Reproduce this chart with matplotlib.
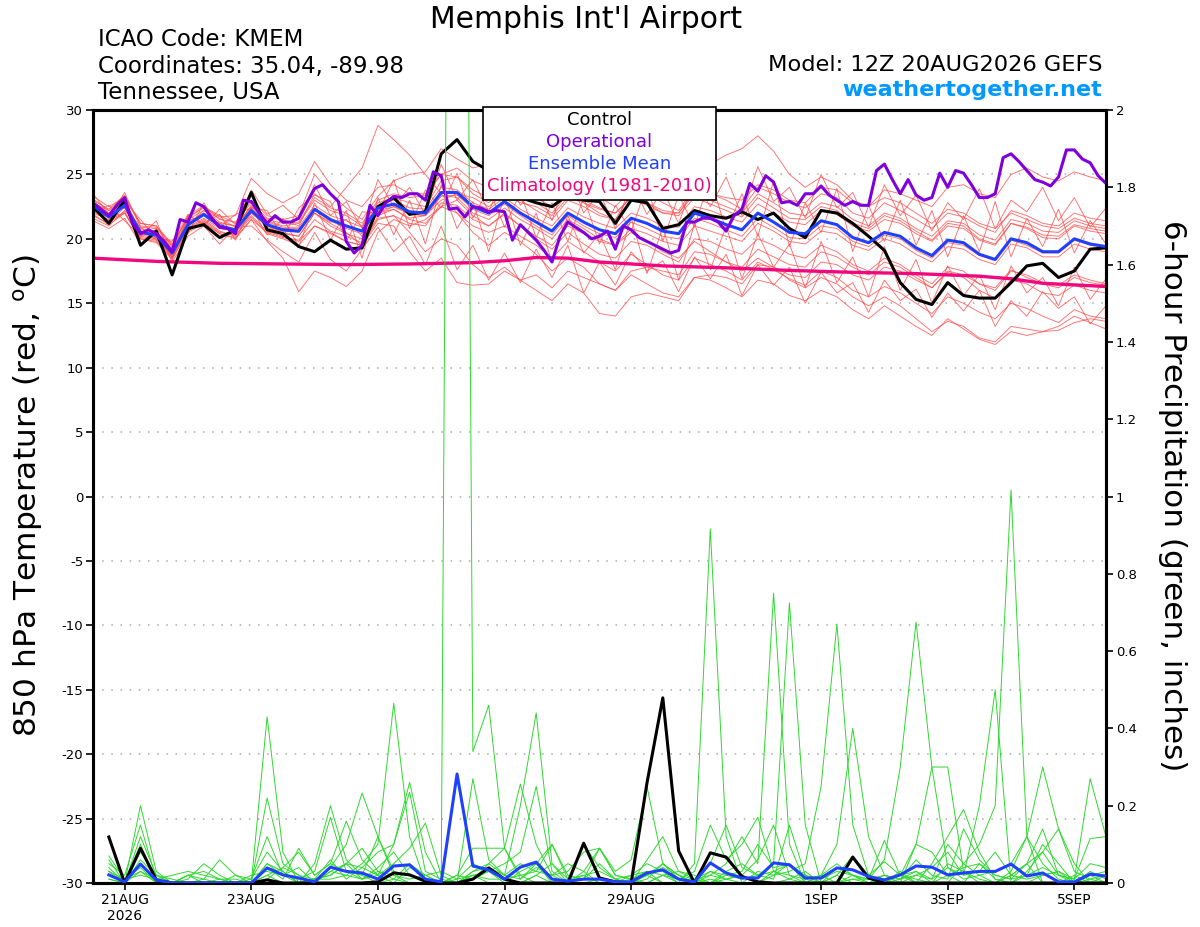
import matplotlib
matplotlib.use("Agg")
import matplotlib.pyplot as plt
from matplotlib.lines import Line2D
from matplotlib.ticker import FuncFormatter

plt.rcParams['font.family'] = 'DejaVu Sans'
plt.rcParams['axes.unicode_minus'] = False
plt.rcParams['mathtext.fontset'] = 'dejavusans'

# forecast hours after 12Z 20AUG2026
temp_hours = list(range(0, 385, 6))
op_hours = list(range(0, 385, 3))
precip_hours = list(range(6, 385, 6))
clim_hours = [0, 24, 48, 72, 96, 120, 144, 156, 168, 180, 192, 216, 240, 264, 288, 312, 336, 348, 360, 384]

# 850 hPa temperature (C)
control_t = [22.5, 21.2, 23.0, 19.5, 20.6, 17.2, 20.8, 21.1, 20.1, 20.7, 23.6, 20.7, 20.4,
             19.4, 19.0, 19.9, 19.2, 19.3, 22.5, 23.2, 21.9, 22.1, 26.6, 27.7, 26.0, 25.3,
             24.0, 23.2, 22.8, 22.5, 23.4, 23.0, 22.9, 21.2, 23.0, 22.8, 20.8, 21.1, 22.2,
             21.8, 21.6, 22.1, 21.5, 22.0, 20.8, 20.1, 22.2, 22.0, 21.2, 20.2, 19.1, 16.6,
             15.3, 14.9, 16.6, 15.6, 15.4, 15.4, 16.6, 17.9, 18.1, 17.0, 17.5, 19.2, 19.3]

mean_t = [22.6, 21.7, 22.6, 20.5, 20.3, 18.9, 21.1, 21.9, 21.0, 20.7, 22.2, 21.1, 20.7,
          20.6, 22.3, 21.5, 21.0, 20.6, 22.4, 22.7, 22.1, 22.0, 23.6, 23.6, 22.5, 22.0,
          22.9, 22.0, 21.3, 20.6, 22.0, 21.3, 20.7, 20.4, 21.6, 21.2, 20.6, 20.4, 22.0,
          21.6, 21.1, 20.7, 22.0, 21.3, 20.5, 20.4, 21.4, 21.1, 20.1, 19.7, 20.5, 20.2,
          19.3, 18.7, 19.9, 19.7, 18.8, 18.4, 20.0, 19.7, 19.0, 19.0, 20.0, 19.6, 19.4]

operational_t = [22.8, 22.3, 21.8, 22.6, 23.2, 21.2, 20.4, 20.7, 20.4, 19.8, 19.0, 21.5, 21.3,
                 22.8, 22.5, 21.6, 20.9, 20.8, 20.4, 23.0, 22.9, 22.0, 21.2, 21.8, 21.3, 21.3,
                 21.6, 22.8, 23.9, 24.2, 23.5, 22.9, 19.8, 18.9, 19.5, 22.6, 21.8, 22.8, 23.3,
                 23.2, 23.5, 23.5, 23.0,
                 25.2, 24.9, 22.3, 22.4, 21.7, 22.5, 22.4, 22.1, 22.2, 22.1,
                 19.9, 21.1, 20.5, 19.9, 19.1, 18.2, 20.2, 21.3, 20.9, 20.5,
                 20.0, 20.2, 20.6, 19.2, 21.0, 20.7, 20.1, 19.8, 19.5, 19.2,
                 18.9, 19.1, 21.3, 21.3, 21.6, 21.6, 21.3, 20.6, 21.8, 22.3,
                 24.3, 23.7, 24.9,
                 24.4, 22.8, 22.9, 22.6, 23.5, 23.5, 24.1, 23.4, 23.0, 22.6,
                 22.9, 22.6, 22.6, 25.3, 25.8, 24.6, 23.5, 24.6, 23.4, 23.0,
                 23.2, 25.1, 24.0, 25.3, 25.1, 24.2, 23.2, 23.2, 23.5, 26.3,
                 26.6, 26.0, 25.3, 24.6, 24.4, 24.1, 24.8, 26.9, 26.9, 26.2,
                 25.9, 24.9, 24.3]

climatology_t = [18.5, 18.25, 18.1, 18.05, 18.0, 18.05, 18.15, 18.3, 18.55, 18.5,
                 18.2, 17.9, 17.75, 17.55, 17.4, 17.3, 17.1, 16.9, 16.55, 16.3]

# ensemble members, temperature
members_t = [
    [23.0, 22.3, 23.4, 21.0, 20.9, 19.5, 21.6, 22.5, 21.8, 21.2, 23.0, 21.8, 21.5,
     21.0, 23.5, 22.5, 24.0, 25.5, 28.8, 27.7, 26.5, 25.0, 23.5, 22.0, 21.0, 20.5,
     21.0, 20.2, 19.5, 18.5, 19.8, 19.0, 18.2, 17.5, 18.8, 18.0, 17.2, 16.8, 18.5,
     18.0, 17.5, 16.8, 18.2, 17.6, 16.9, 16.4, 17.5, 17.0, 16.0, 15.5, 16.3, 15.8,
     15.0, 14.2, 15.5, 15.0, 14.3, 13.8, 15.0, 14.6, 14.0, 13.5, 14.5, 14.0, 13.8],
    [22.2, 21.3, 22.0, 20.0, 19.8, 18.5, 20.5, 21.2, 20.4, 20.0, 21.5, 19.8, 18.5,
     15.9, 17.5, 17.0, 16.3, 17.5, 20.5, 21.5, 21.0, 21.5, 22.5, 22.0, 20.5, 19.5,
     20.5, 19.8, 18.8, 17.5, 18.5, 17.8, 16.5, 16.0, 17.2, 16.5, 15.8, 15.5, 17.0,
     16.8, 16.2, 15.5, 16.8, 16.5, 15.6, 15.2, 16.0, 15.5, 14.5, 13.8, 14.8, 14.0,
     13.2, 12.5, 13.8, 13.0, 12.2, 11.8, 12.8, 12.5, 12.8, 13.2, 14.0, 13.5, 13.0],
    [23.3, 22.5, 23.2, 21.2, 21.0, 19.4, 21.8, 22.6, 21.5, 21.3, 22.8, 21.6, 21.5,
     21.8, 25.0, 23.5, 22.4, 21.5, 23.3, 24.5, 25.0, 25.2, 27.0, 26.2, 25.5, 25.8,
     26.0, 25.2, 24.5, 23.5, 24.8, 24.0, 23.2, 22.5, 23.8, 23.5, 22.8, 22.2, 24.0,
     23.5, 23.0, 22.3, 24.0, 23.5, 22.8, 22.4, 23.5, 23.2, 22.0, 21.6, 22.8, 22.2,
     21.5, 20.8, 22.0, 21.7, 21.0, 20.5, 22.2, 21.8, 21.2, 21.0, 22.0, 21.6, 21.4],
    [22.0, 21.5, 22.8, 20.2, 20.0, 18.8, 20.8, 21.5, 20.6, 20.2, 22.0, 21.0, 20.5,
     20.2, 22.0, 21.3, 21.5, 20.2, 22.0, 22.5, 22.0, 21.8, 23.0, 23.5, 23.2, 22.5,
     23.5, 22.8, 22.5, 21.8, 23.2, 22.8, 22.0, 21.5, 23.0, 22.8, 22.0, 22.0, 23.8,
     23.5, 23.2, 23.0, 24.2, 23.8, 23.0, 22.8, 24.0, 23.8, 22.8, 22.5, 23.8, 23.5,
     23.0, 22.5, 24.0, 24.2, 23.5, 23.2, 25.0, 25.5, 24.8, 24.5, 25.2, 24.8, 24.5],
    [21.6, 21.0, 22.2, 20.8, 20.6, 19.2, 21.4, 21.8, 21.2, 20.5, 21.8, 20.6, 20.2,
     19.8, 21.0, 20.5, 19.8, 19.5, 21.8, 22.3, 21.5, 21.2, 22.5, 23.0, 21.8, 21.0,
     22.0, 21.0, 20.0, 19.2, 20.5, 19.6, 18.8, 18.5, 19.8, 19.5, 18.8, 18.2, 20.0,
     19.8, 19.2, 18.8, 20.0, 19.5, 18.8, 18.5, 19.5, 19.0, 18.0, 17.5, 18.5, 18.0,
     17.2, 16.5, 17.8, 17.5, 16.5, 16.0, 17.5, 17.2, 16.6, 16.4, 17.2, 16.8, 16.5],
    [22.9, 22.0, 23.0, 20.6, 20.4, 19.0, 21.0, 22.2, 21.3, 21.0, 22.5, 21.4, 21.0,
     21.2, 23.0, 22.2, 21.8, 21.0, 22.8, 23.2, 22.8, 22.5, 24.5, 24.8, 23.5, 22.8,
     23.8, 23.0, 22.2, 21.5, 23.0, 22.5, 21.8, 21.5, 23.5, 23.8, 23.5, 24.0, 25.5,
     25.8, 26.5, 27.0, 28.0, 26.8, 25.0, 24.0, 24.8, 24.2, 23.0, 22.5, 23.2, 22.8,
     22.0, 21.2, 22.3, 22.0, 21.2, 20.8, 22.0, 21.5, 21.0, 20.8, 21.6, 21.2, 21.0],
    [22.4, 21.8, 22.4, 20.3, 20.1, 18.6, 20.9, 21.6, 20.8, 20.6, 22.0, 21.0, 20.8,
     20.8, 22.0, 21.2, 20.5, 19.5, 21.5, 21.8, 20.5, 19.0, 20.0, 19.5, 18.0, 17.0,
     17.8, 16.8, 16.0, 15.2, 16.5, 15.8, 14.2, 14.0, 15.5, 15.8, 15.5, 15.2, 17.0,
     17.2, 17.0, 16.5, 18.0, 17.8, 17.2, 17.0, 18.2, 18.0, 17.2, 16.8, 17.8, 17.5,
     16.8, 16.2, 17.5, 17.2, 16.5, 16.2, 17.6, 17.0, 16.5, 16.2, 17.0, 16.6, 16.4],
    [22.7, 21.9, 22.9, 20.7, 20.5, 19.1, 21.3, 22.0, 21.2, 21.0, 22.4, 21.3, 20.9,
     20.9, 22.6, 21.8, 21.4, 20.9, 22.6, 23.0, 22.4, 22.3, 24.0, 23.8, 22.8, 22.3,
     23.2, 22.3, 21.6, 21.0, 22.4, 21.7, 21.2, 20.8, 22.0, 21.6, 21.0, 20.9, 22.5,
     22.2, 21.7, 21.3, 22.7, 22.0, 21.3, 21.1, 22.2, 21.9, 21.0, 20.6, 21.5, 21.2,
     20.4, 19.8, 21.0, 20.8, 19.9, 19.5, 21.2, 20.8, 20.1, 20.0, 21.0, 20.6, 20.4],
    [21.8, 21.2, 22.5, 20.4, 20.2, 18.7, 21.0, 21.9, 21.0, 20.6, 22.1, 20.9, 20.4,
     20.2, 22.0, 21.0, 20.4, 20.0, 22.0, 22.3, 21.6, 21.8, 23.4, 23.2, 22.0, 21.5,
     22.4, 21.5, 20.8, 20.0, 21.5, 20.8, 20.0, 19.5, 20.5, 19.8, 19.0, 18.5, 19.8,
     19.0, 18.2, 17.5, 18.5, 17.8, 16.8, 16.2, 17.0, 16.5, 15.5, 14.8, 15.5, 14.8,
     13.8, 12.8, 13.6, 13.2, 12.3, 12.0, 13.2, 13.0, 12.8, 12.9, 13.5, 13.8, 13.6],
    [22.5, 21.6, 22.7, 20.6, 20.2, 18.8, 21.0, 21.8, 20.9, 20.6, 22.1, 21.0, 20.6,
     20.5, 22.2, 21.4, 20.8, 20.4, 22.2, 22.5, 21.9, 21.8, 23.3, 23.4, 22.3, 21.8,
     22.7, 21.8, 21.0, 20.3, 21.8, 21.0, 20.4, 20.1, 21.3, 20.8, 20.2, 20.0, 21.6,
     21.2, 20.7, 20.2, 21.6, 20.9, 20.1, 20.0, 21.0, 20.8, 19.8, 19.4, 20.3, 20.0,
     19.1, 18.5, 19.7, 19.5, 18.7, 18.3, 19.9, 19.5, 18.9, 18.9, 19.9, 19.5, 19.3],
    [23.1, 22.2, 23.3, 21.2, 21.0, 19.6, 21.7, 22.4, 21.7, 21.8, 24.7, 23.5, 22.8,
     23.5, 26.0, 24.2, 23.0, 22.5, 24.0, 24.2, 23.5, 23.5, 25.0, 25.5, 24.5, 24.0,
     24.8, 24.0, 23.2, 22.5, 23.8, 23.0, 22.4, 22.0, 23.2, 22.8, 22.2, 22.0, 23.5,
     23.0, 22.5, 22.0, 23.5, 22.8, 22.0, 21.8, 22.8, 22.5, 21.5, 21.0, 22.0, 21.6,
     20.8, 20.2, 21.4, 21.2, 20.3, 19.9, 21.5, 21.2, 20.6, 20.5, 21.4, 21.0, 20.8],
    [22.3, 21.4, 22.1, 20.1, 19.9, 18.6, 20.7, 21.4, 20.5, 20.3, 21.7, 20.4, 20.0,
     19.5, 21.0, 20.4, 19.8, 19.5, 21.2, 21.0, 19.0, 17.5, 18.5, 16.6, 16.4, 16.5,
     17.5, 16.8, 17.2, 16.2, 17.5, 17.0, 16.5, 16.0, 17.5, 17.8, 17.5, 17.2, 19.0,
     18.8, 18.2, 17.8, 19.2, 18.6, 18.0, 17.8, 19.0, 18.6, 17.8, 17.2, 18.2, 17.8,
     17.0, 16.2, 17.4, 17.0, 16.0, 15.4, 16.8, 16.5, 15.8, 15.6, 16.4, 16.0, 15.8],
    [22.8, 22.2, 22.5, 20.9, 20.8, 19.3, 21.5, 22.2, 21.6, 20.9, 22.6, 21.5, 21.2,
     21.3, 23.2, 22.4, 22.0, 21.2, 23.0, 23.5, 23.2, 23.4, 25.0, 24.8, 23.8, 23.2,
     24.2, 23.4, 22.8, 22.0, 23.5, 22.8, 22.3, 22.0, 23.2, 22.6, 22.0, 21.8, 23.2,
     22.7, 22.2, 21.7, 23.2, 22.4, 21.6, 21.5, 22.5, 22.2, 21.2, 20.8, 21.8, 21.4,
     20.6, 19.9, 21.2, 21.0, 20.0, 19.6, 21.2, 20.9, 20.3, 20.2, 21.1, 20.8, 20.6],
    [21.9, 21.1, 22.0, 20.0, 19.7, 18.4, 20.6, 21.3, 20.4, 20.1, 21.5, 20.5, 20.1,
     19.9, 21.5, 20.6, 20.2, 19.7, 21.6, 21.8, 21.2, 21.0, 22.8, 22.6, 21.5, 21.0,
     21.9, 21.0, 20.2, 19.5, 21.0, 20.4, 19.8, 19.5, 20.8, 20.4, 19.8, 19.5, 21.0,
     20.6, 20.2, 19.8, 21.2, 20.6, 19.8, 19.6, 20.6, 20.4, 19.5, 19.1, 20.0, 19.6,
     18.8, 18.2, 19.4, 19.2, 18.4, 18.0, 19.6, 19.3, 18.6, 18.6, 19.6, 19.2, 19.0],
    [22.1, 21.7, 23.6, 20.9, 19.9, 19.8, 21.9, 21.0, 22.3, 21.1, 23.8, 21.9, 22.6,
     21.5, 24.2, 21.8, 22.9, 20.8, 24.6, 22.5, 24.0, 21.9, 25.8, 23.0, 24.6, 22.1,
     25.0, 22.6, 24.1, 21.4, 25.2, 22.0, 23.6, 20.8, 24.4, 21.9, 23.8, 21.2, 24.6,
     22.5, 24.8, 21.8, 25.6, 22.9, 24.0, 21.6, 25.0, 22.4, 23.6, 20.9, 24.2, 21.8,
     23.4, 20.6, 22.8, 21.5, 23.9, 20.8, 23.0, 22.1, 24.0, 21.4, 23.2, 20.9, 22.4],
    [21.4, 20.8, 21.6, 19.6, 20.8, 18.2, 20.2, 21.0, 19.6, 20.9, 21.0, 19.9, 19.0,
     18.2, 20.5, 18.4, 17.5, 19.2, 20.9, 19.0, 20.2, 18.0, 21.0, 17.6, 19.5, 16.8,
     18.9, 16.6, 19.2, 17.0, 19.5, 15.8, 18.2, 16.4, 19.0, 17.5, 18.3, 15.9, 18.6,
     16.9, 18.8, 15.6, 18.0, 16.4, 17.8, 15.0, 17.4, 15.8, 16.6, 14.3, 16.8, 15.2,
     16.1, 13.9, 15.8, 14.4, 16.0, 13.2, 15.2, 14.0, 15.9, 14.6, 15.5, 13.4, 14.8],
    [23.5, 21.9, 22.9, 21.5, 20.0, 19.9, 20.4, 22.8, 20.9, 21.9, 22.4, 22.2, 20.1,
     22.4, 23.4, 22.9, 19.8, 22.1, 22.0, 24.6, 20.8, 23.8, 22.4, 25.1, 21.6, 23.9,
     20.9, 23.6, 20.1, 22.8, 19.8, 23.2, 19.6, 22.6, 20.6, 24.2, 19.8, 23.4, 20.9,
     24.8, 20.6, 23.5, 20.2, 24.5, 19.4, 22.8, 20.5, 23.9, 19.0, 22.6, 19.8, 23.0,
     19.5, 22.2, 18.6, 21.8, 19.0, 22.9, 18.6, 21.6, 19.4, 22.3, 18.9, 21.4, 19.6],
    [22.0, 22.6, 21.4, 20.2, 21.4, 18.4, 21.8, 21.2, 21.9, 19.9, 22.4, 20.3, 21.6,
     19.4, 22.8, 19.9, 22.2, 18.5, 23.2, 20.3, 23.0, 19.6, 24.2, 20.8, 22.9, 19.0,
     23.4, 19.5, 22.0, 18.2, 21.8, 18.9, 20.4, 17.6, 21.6, 17.3, 20.9, 16.8, 21.2,
     17.6, 21.0, 16.9, 20.4, 17.8, 19.6, 16.2, 19.8, 16.6, 18.6, 15.5, 19.4, 16.0,
     18.4, 15.0, 17.9, 15.6, 17.2, 14.5, 17.9, 15.8, 17.0, 14.8, 17.8, 15.3, 16.9],
]

# 6-hour precipitation (inches)
control_p = [0.119, 0, 0.090, 0.008, 0, 0, 0, 0, 0, 0, 0.008, 0, 0, 0, 0, 0,
             0, 0.003, 0.026, 0.021, 0.005, 0, 0, 0.01, 0.039, 0.01, 0, 0, 0, 0, 0.103, 0.013,
             0.003, 0, 0.259, 0.479, 0.083, 0, 0.078, 0.067, 0.017, 0.003, 0, 0, 0, 0, 0, 0.067,
             0.013, 0, 0, 0, 0, 0, 0, 0, 0, 0, 0, 0, 0, 0, 0, 0]

mean_p = [0.021, 0.003, 0.049, 0.008, 0, 0, 0, 0, 0, 0, 0.039, 0.021, 0.013, 0.003, 0.041, 0.030,
          0.026, 0.010, 0.044, 0.047, 0.010, 0.003, 0.282, 0.044, 0.034, 0.010, 0.041, 0.054, 0.010, 0.005, 0.010, 0.010,
          0.003, 0.003, 0.026, 0.034, 0.010, 0.003, 0.052, 0.026, 0.013, 0.013, 0.052, 0.047, 0.013, 0.013, 0.039, 0.034,
          0.017, 0.008, 0.021, 0.044, 0.041, 0.021, 0.026, 0.030, 0.030, 0.049, 0.018, 0.026, 0.003, 0.003, 0.023, 0.018]

members_p = [
    [0.02, 0, 0.05, 0, 0, 0, 0.01, 0, 0, 0, 0.43, 0.08, 0, 0, 0.03, 0.02,
     0.05, 0.1, 0.465, 0.12, 0, 0, 0, 0.02, 0, 0, 0.03, 0.05, 0, 0, 0, 0.01,
     0, 0, 0.02, 0, 0, 0.05, 0.916, 0.12, 0, 0, 0.03, 0.02, 0, 0, 0.02, 0,
     0, 0, 0.01, 0.03, 0, 0, 0.05, 0.1, 0.2, 1.017, 0.12, 0, 0, 0.02, 0, 0],
    [0.01, 0, 0.2, 0.03, 0, 0, 0, 0, 0, 0, 0.02, 0, 0, 0.05, 0.2, 0.06,
     0.02, 0, 0.01, 0, 0, 0, 6.8, 0.34, 0.46, 0.09, 0.02, 0, 0, 0, 0, 0,
     0, 0.01, 0.03, 0, 0, 0, 0.02, 0.05, 0.12, 0.05, 0.75, 0.1, 0, 0, 0, 0.02,
     0, 0, 0.02, 0, 0, 0.05, 0.03, 0, 0, 0.02, 0.05, 0, 0, 0, 0.03, 0.01],
    [0.03, 0, 0.1, 0, 0, 0, 0, 0, 0, 0, 0.22, 0.05, 0.02, 0, 0.04, 0.1,
     0.233, 0.12, 0.02, 0, 0, 0, 0, 0.03, 0.05, 0.02, 0.2, 0.44, 0.05, 0, 0, 0,
     0, 0, 0, 0.02, 0, 0, 0, 0.03, 0.05, 0.02, 0.05, 0.725, 0.15, 0, 0, 0,
     0, 0, 0, 0.02, 0.04, 0.08, 0.02, 0.2, 0.5, 0, 0.02, 0.1, 0.05, 0, 0.02, 0],
    [0.05, 0.02, 0.15, 0.01, 0, 0, 0, 0, 0, 0, 0.05, 0.03, 0, 0.01, 0.06, 0.01,
     0.04, 0.02, 0.1, 0.26, 0.08, 0, 0, 0.02, 0.03, 0, 0, 0.02, 0, 0, 0.02, 0,
     0, 0, 0.01, 0.05, 0.02, 0, 0.01, 0, 0, 0, 0.02, 0.03, 0.05, 0.25, 0.67, 0.15,
     0.02, 0, 0.03, 0, 0.05, 0.12, 0.19, 0.08, 0.01, 0, 0, 0.02, 0.03, 0, 0, 0.02],
    [0, 0, 0.08, 0.02, 0, 0.02, 0.03, 0.01, 0, 0, 0.01, 0.04, 0.08, 0.02, 0.05, 0.16,
     0.06, 0.02, 0, 0.04, 0.02, 0, 0.02, 0.01, 0.05, 0.09, 0.256, 0.1, 0.02, 0.03, 0.08, 0.09,
     0.02, 0.01, 0, 0.02, 0.03, 0.02, 0, 0.01, 0.02, 0, 0, 0.01, 0.03, 0, 0, 0.01,
     0.01, 0.06, 0.3, 0.675, 0.3, 0.04, 0.01, 0.02, 0, 0.03, 0.12, 0.3, 0.14, 0.05, 0, 0],
    [0.04, 0, 0.12, 0.02, 0.01, 0, 0, 0, 0, 0, 0.05, 0.02, 0.01, 0.03, 0.17, 0.03,
     0.01, 0.04, 0.08, 0.02, 0.01, 0, 0, 0.27, 0.06, 0.02, 0.01, 0.04, 0.02, 0, 0.03, 0,
     0, 0.02, 0.05, 0.03, 0, 0.01, 0.02, 0.01, 0, 0.03, 0.02, 0.05, 0, 0.02, 0.1, 0.40,
     0.12, 0.02, 0, 0.1, 0.30, 0.30, 0.03, 0.01, 0, 0.02, 0.05, 0.14, 0.02, 0, 0.01, 0.02],
    [0.07, 0.01, 0.04, 0, 0, 0.01, 0.05, 0.02, 0, 0.01, 0.08, 0.03, 0, 0.01, 0.02, 0.05,
     0.01, 0.02, 0.05, 0.09, 0.155, 0.02, 0, 0.01, 0.03, 0.05, 0.08, 0.25, 0.03, 0, 0.01, 0.05,
     0.01, 0, 0.02, 0.05, 0.01, 0.03, 0.15, 0.06, 0.1, 0.17, 0.03, 0.01, 0, 0.02, 0.05, 0.02,
     0, 0.01, 0.02, 0.01, 0, 0.02, 0.04, 0.05, 0.01, 0, 0.03, 0.08, 0.02, 0.01, 0.27, 0.12],
    [0.02, 0.01, 0.03, 0.01, 0, 0.02, 0.01, 0.06, 0.02, 0, 0.04, 0.01, 0.09, 0.02, 0.05, 0.03,
     0.02, 0.12, 0.03, 0.02, 0, 0, 0.02, 0.09, 0.09, 0.09, 0.01, 0.05, 0.1, 0.02, 0.01, 0.09,
     0.03, 0.06, 0.25, 0.05, 0.02, 0, 0.03, 0.01, 0.02, 0.06, 0.15, 0.02, 0.01, 0, 0.02, 0.07,
     0.02, 0.055, 0.02, 0.1, 0.08, 0.02, 0, 0.05, 0.02, 0.01, 0.05, 0.08, 0.14, 0.03, 0.01, 0],
    [0.01, 0, 0.06, 0.02, 0, 0, 0, 0.01, 0, 0.02, 0.03, 0.02, 0.04, 0, 0.03, 0.05,
     0.04, 0.08, 0.1, 0.235, 0.03, 0.01, 0, 0.03, 0.04, 0.02, 0.05, 0.03, 0.10, 0.01, 0.02, 0.03,
     0.01, 0.02, 0.03, 0.02, 0.01, 0.01, 0.05, 0.15, 0.04, 0.02, 0.01, 0.15, 0.02, 0, 0.04, 0.02,
     0.01, 0.11, 0.02, 0.03, 0.01, 0.1, 0.05, 0.02, 0.03, 0.05, 0.12, 0.05, 0.01, 0, 0.02, 0.03],
    [0.03, 0.01, 0.02, 0.01, 0.02, 0.03, 0.02, 0.01, 0.01, 0, 0.02, 0.04, 0.02, 0.01, 0.01, 0.02,
     0.01, 0.03, 0.02, 0.01, 0.02, 0.03, 0.01, 0.02, 0.01, 0.01, 0.02, 0.03, 0.02, 0.05, 0.03, 0.09,
     0.02, 0.01, 0.02, 0.04, 0.02, 0.01, 0.03, 0.02, 0.01, 0.02, 0.03, 0.05, 0.02, 0.01, 0.03, 0.02,
     0.01, 0.02, 0.01, 0.02, 0.01, 0.04, 0.02, 0.03, 0.08, 0.02, 0.01, 0.02, 0.03, 0.01, 0.05, 0.04],
    [0.06, 0, 0.03, 0, 0, 0.02, 0, 0, 0.02, 0.01, 0.12, 0.02, 0, 0.01, 0.02, 0.05,
     0.09, 0.03, 0.01, 0.05, 0.02, 0, 0.01, 0.05, 0.03, 0.01, 0, 0.02, 0.05, 0.01, 0.1, 0.04,
     0.01, 0, 0.06, 0.12, 0.03, 0.01, 0, 0.02, 0.03, 0.1, 0.04, 0.05, 0.01, 0.02, 0, 0.01,
     0, 0.02, 0.01, 0.06, 0.02, 0.01, 0.14, 0.06, 0.02, 0.01, 0.02, 0.04, 0.02, 0.01, 0.115, 0.12],
]

tick_hours = [12, 60, 108, 156, 204, 276, 324, 372]
tick_labels = ['21AUG\n2026', '23AUG', '25AUG', '27AUG', '29AUG', '1SEP', '3SEP', '5SEP']

legend_labels = ['Control', 'Operational', 'Ensemble Mean', 'Climatology (1981-2010)']

C_CTRL = 'black'
C_OPER = '#7f00dd'
C_MEAN = '#2040ff'
C_CLIM = '#f0087f'
C_RED = '#ff4a4a'
C_GREEN = '#2fd82f'

fig = plt.figure(figsize=(12, 9.27), dpi=100)
ax = fig.add_axes([93 / 1200, 1 - 883 / 927, 1013 / 1200, 773 / 927])
ax2 = ax.twinx()

# temperature
for m in members_t:
    ax.plot(temp_hours, m, color=C_RED, lw=0.65, alpha=0.8, zorder=2)
ax.plot(clim_hours, climatology_t, color=C_CLIM, lw=2.4, zorder=3)
ax.plot(temp_hours, control_t, color=C_CTRL, lw=2.2, zorder=4)
ax.plot(temp_hours, mean_t, color=C_MEAN, lw=2.2, zorder=5)
ax.plot(op_hours, operational_t, color=C_OPER, lw=2.2, zorder=6)

# precipitation
for m in members_p:
    ax2.plot(precip_hours, m, color=C_GREEN, lw=0.7, zorder=2)
ax2.plot(precip_hours, control_p, color=C_CTRL, lw=2.2, zorder=4)
ax2.plot(precip_hours, mean_p, color=C_MEAN, lw=2.2, zorder=5)

ax.set_xlim(0, 384)
ax.set_ylim(-30, 30)
ax2.set_ylim(0, 2)
ax.set_yticks(range(-30, 31, 5))
ax2.set_yticks([i / 10 for i in range(0, 21, 2)])
ax2.yaxis.set_major_formatter(FuncFormatter(lambda v, p: '%g' % v))
ax.set_xticks(tick_hours)
ax.set_xticklabels(tick_labels)

ax.yaxis.grid(True, linestyle=(0, (1, 5)), color='#aaaaaa', lw=1.1)
ax.set_axisbelow(True)

for a in (ax, ax2):
    for s in a.spines.values():
        s.set_linewidth(2.2)
    a.tick_params(direction='out', length=5, width=1.2, pad=2)
ax.tick_params(axis='y', labelsize=9.5)
ax.tick_params(axis='x', labelsize=10)
ax2.tick_params(axis='y', labelsize=9.5)

handles = [Line2D([], [], lw=0) for _ in legend_labels]
leg = ax2.legend(handles, legend_labels, loc='upper center', bbox_to_anchor=(0.5, 1.004),
                 handlelength=0, handletextpad=0, fancybox=False, framealpha=1,
                 edgecolor='black', fontsize=13, labelspacing=0.22, borderpad=0.25,
                 borderaxespad=0, labelcolor=[C_CTRL, C_OPER, C_MEAN, C_CLIM])
leg.get_frame().set_linewidth(1.2)
for col in leg._legend_handle_box.get_children():
    col.align = 'center'
leg.set_zorder(10)

fig.text(586 / 1200, 1 - 19 / 927, "Memphis Int'l Airport", ha='center', va='center', fontsize=21.5)
fig.text(98 / 1200, 1 - 40 / 927, "ICAO Code: KMEM", ha='left', va='center', fontsize=16.5)
fig.text(98 / 1200, 1 - 66 / 927, "Coordinates: 35.04, -89.98", ha='left', va='center', fontsize=16.5)
fig.text(98 / 1200, 1 - 93 / 927, "Tennessee, USA", ha='left', va='center', fontsize=16.5)
fig.text(1102 / 1200, 1 - 65 / 927, "Model: 12Z 20AUG2026 GEFS", ha='right', va='center', fontsize=16.2)
fig.text(1102 / 1200, 1 - 90 / 927, "weathertogether.net", ha='right', va='center',
         fontsize=16, fontweight='bold', color='#0099ff')
fig.text(28 / 1200, 1 - 496 / 927, r"850 hPa Temperature (red, $^{\mathrm{o}}$C)",
         rotation=90, ha='center', va='center', fontsize=22.5)
fig.text(1172 / 1200, 1 - 496 / 927, "6-hour Precipitation (green, inches)",
         rotation=270, ha='center', va='center', fontsize=22.4)

fig.savefig('out.png', dpi=100)
